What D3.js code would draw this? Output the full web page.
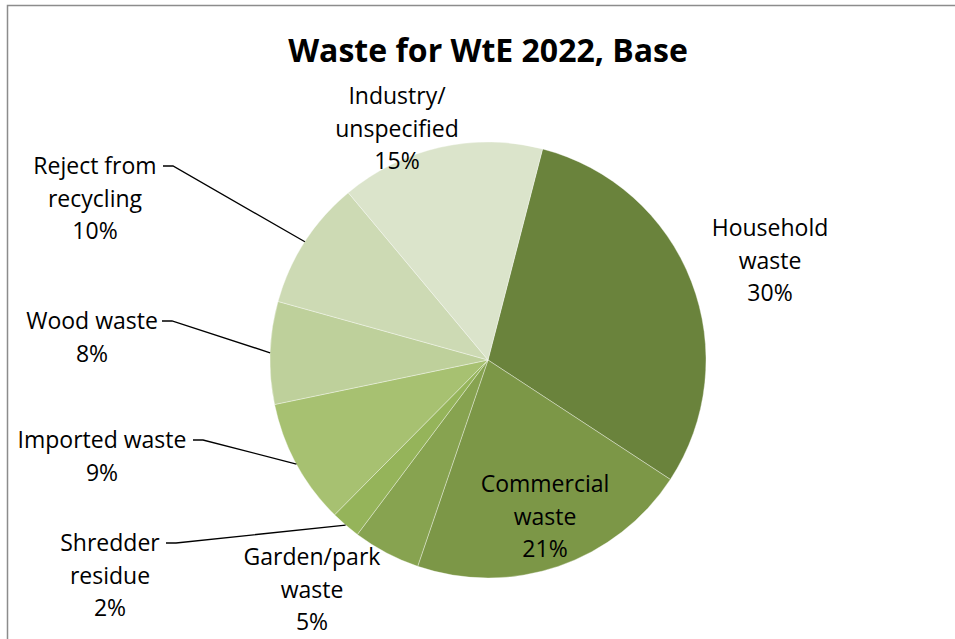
<!DOCTYPE html>
<html>
<head>
<meta charset="utf-8">
<script src="https://cdn.jsdelivr.net/npm/d3@7"></script>
<style>
  html, body { margin: 0; padding: 0; background: #fff; }
  svg { display: block; font-family: "Open Sans", Lato, sans-serif; }
</style>
</head>
<body>
<svg id="chart" width="955" height="639"></svg>
<script>
/* Pie: Waste for WtE 2022, Base */

const categories = ['Household waste', 'Commercial waste', 'Garden/park waste', 'Shredder residue',
                    'Imported waste', 'Wood waste', 'Reject from recycling', 'Industry/unspecified'];
const shares     = [30.2, 21.0, 5.0, 2.2, 9.3, 7.6, 9.6, 15.1];
const labelLines = [['Household', 'waste'], ['Commercial', 'waste'], ['Garden/park', 'waste'],
                    ['Shredder', 'residue'], ['Imported waste'], ['Wood waste'],
                    ['Reject from', 'recycling'], ['Industry/', 'unspecified']];
const colors     = ['#6a833c', '#7c9747', '#87a350', '#95b45a', '#a7c171', '#bed09b', '#cddab4', '#dbe4cb'];

// label placement (x centre, first baseline) and whether a leader line is drawn
const labelPos = [
  { x: 770, y: 236, leader: false },
  { x: 545, y: 492, leader: false },
  { x: 312, y: 565, leader: false },
  { x: 110, y: 551, leader: true,  lx: 176 },
  { x: 102, y: 448, leader: true,  lx: 203 },
  { x: 92,  y: 329, leader: true,  lx: 172 },
  { x: 95,  y: 174, leader: true,  lx: 173 },
  { x: 397, y: 104, leader: false },
];

const W = 955, H = 639;
const cx = 488, cy = 360, R = 218;
const START = 14.5 * Math.PI / 180;
const LINE_H = 32.5;

const svg = d3.select('#chart');
const total = d3.sum(shares);

// chart frame
svg.append('rect')
  .attr('x', 7.5).attr('y', 5.5)
  .attr('width', W + 10).attr('height', H + 10)
  .attr('fill', '#fff')
  .attr('stroke', '#8c8c8c').attr('stroke-width', 1.5);

svg.append('text')
  .attr('x', 488).attr('y', 62)
  .attr('text-anchor', 'middle')
  .attr('font-size', 32).attr('font-weight', 'bold')
  .attr('fill', '#000')
  .text('Waste for WtE 2022, Base');

const pie = d3.pie().sort(null).value(d => d)
  .startAngle(START).endAngle(START + 2 * Math.PI);
const arcs = pie(shares);
const arc = d3.arc().innerRadius(0).outerRadius(R);

const g = svg.append('g').attr('transform', `translate(${cx},${cy})`);
g.selectAll('path.slice').data(arcs).enter().append('path')
  .attr('class', 'slice')
  .attr('d', arc)
  .attr('fill', (d, i) => colors[i])
  .attr('stroke', '#ffffff').attr('stroke-opacity', 0.45).attr('stroke-width', 0.8);

// leader lines
arcs.forEach((a, i) => {
  const p = labelPos[i];
  if (!p.leader) return;
  const mid = (a.startAngle + a.endAngle) / 2;
  const ex = cx + R * Math.sin(mid), ey = cy - R * Math.cos(mid);
  const ly = p.y - 8;
  svg.append('polyline')
    .attr('points', `${p.lx - 10},${ly} ${p.lx},${ly} ${ex},${ey}`)
    .attr('fill', 'none').attr('stroke', '#000').attr('stroke-width', 1.3);
});

// labels
arcs.forEach((a, i) => {
  const p = labelPos[i];
  const lines = labelLines[i].concat([Math.round(shares[i] / total * 100) + '%']);
  const t = svg.append('text')
    .attr('text-anchor', 'middle')
    .attr('font-size', 23).attr('fill', '#000');
  lines.forEach((s, k) => {
    t.append('tspan').attr('x', p.x).attr('y', p.y + k * LINE_H).text(s);
  });
});
</script>
</body>
</html>
